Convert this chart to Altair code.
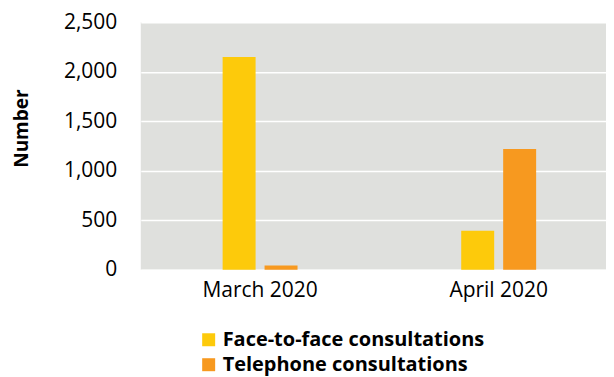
import altair as alt
import pandas as pd

months = ["March 2020", "April 2020"]
series = ["Face-to-face consultations", "Telephone consultations"]
face = [2150, 395]
telephone = [45, 1220]
colors = ["#FDCA0B", "#F7991F"]
y_ticks = [0, 500, 1000, 1500, 2000, 2500]

rows = []
for i, m in enumerate(months):
    rows.append({"month": m, "series": series[0], "value": face[i]})
    rows.append({"month": m, "series": series[1], "value": telephone[i]})
df = pd.DataFrame(rows)

FONT = "Open Sans"

chart = alt.Chart(df).mark_bar().encode(
    x=alt.X("month:N", sort=months,
            scale=alt.Scale(range=[0, 478], paddingInner=0.686, paddingOuter=0.343),
            axis=alt.Axis(title=None, labelAngle=0, domain=False, ticks=False,
                          labelPadding=10, labelFontSize=21, labelFont=FONT,
                          labelColor="#000000")),
    xOffset=alt.XOffset("series:N", sort=series,
                        scale=alt.Scale(paddingInner=0.214, paddingOuter=0)),
    y=alt.Y("value:Q", scale=alt.Scale(domain=[0, 2500], nice=False),
            axis=alt.Axis(values=y_ticks, format=",.0f", grid=True, gridColor="white",
                          gridWidth=1.5, domain=False, ticks=False, labelPadding=24,
                          labelFontSize=21, labelFont=FONT, labelColor="#000000",
                          title="Number", titleFont=FONT, titleFontSize=19,
                          titleFontWeight="bold", titleColor="#000000",
                          titleAngle=270, titleX=-119, titleY=106,
                          titleAlign="center", titleBaseline="middle")),
    color=alt.Color("series:N", sort=series,
                    scale=alt.Scale(domain=series, range=colors),
                    legend=alt.Legend(title=None, orient="none", legendX=58, legendY=308,
                                      direction="vertical", symbolType="square",
                                      symbolSize=169, symbolStrokeWidth=0,
                                      labelFont=FONT, labelFontSize=20,
                                      labelFontWeight="bold", labelColor="#000000",
                                      labelOffset=4, rowPadding=5, labelLimit=500)),
).properties(
    width=466, height=248, background="white",
    padding={"left": 133, "top": 14, "right": 0, "bottom": 106},
    autosize=alt.AutoSizeParams(type="none"),
).configure_view(fill="#DFE0DD", stroke=None)

chart.save("out.html", embed_options={"renderer": "svg", "actions": False})
